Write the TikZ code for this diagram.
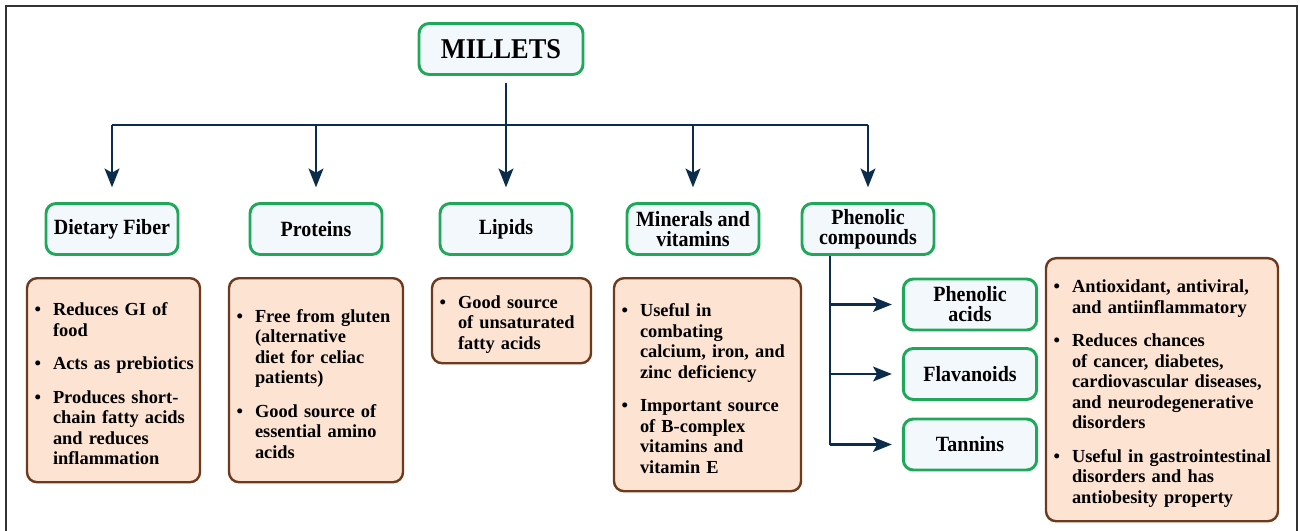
\documentclass[tikz,border=0pt]{standalone}
\usepackage{fontspec}
\setmainfont{Liberation Serif}
\newfontfamily\HeadFont{Liberation Serif}[FakeStretch=0.92]
\usepackage{enumitem}
\usetikzlibrary{arrows.meta,positioning}

\definecolor{BoxGreen}{HTML}{1FA85A}
\definecolor{BoxBlue}{HTML}{F3F8FC}
\definecolor{InfoBrown}{HTML}{6E3A1E}
\definecolor{InfoPeach}{HTML}{FCE3D2}
\definecolor{LinkNavy}{HTML}{0B2C4A}
\definecolor{FrameGray}{HTML}{333333}

\setlist[itemize]{label=\textbullet, leftmargin=13.5pt, rightmargin=-8pt, labelsep=9pt, itemsep=9.75pt, parsep=0pt, topsep=0pt, partopsep=0pt}

\begin{document}
\begin{tikzpicture}[
				x=0.75pt, y=-0.75pt,
				% Define the box styles
				topic/.style={draw=BoxGreen, fill=BoxBlue, line width=2.2pt, rounded corners=7.5pt,
					minimum width=99pt, minimum height=38.25pt, inner sep=2pt, align=center,
					font=\HeadFont\fontsize{16.3}{15}\selectfont\bfseries},
				info/.style={draw=InfoBrown, fill=InfoPeach, line width=1.8pt, rounded corners=7.5pt,
					anchor=north, inner xsep=6pt, inner ysep=2pt, align=left,
					font=\fontsize{13.8}{15.4}\selectfont\bfseries},
				wire/.style={draw=LinkNavy, line width=2.2pt},
				link/.style={wire, -{Stealth[length=14pt, width=11pt, inset=3pt]}}
				]
				\pgfmathsetmacro{\BusY}{125}
				\pgfmathsetmacro{\TrunkX}{830}
				\useasboundingbox (0,0) rectangle (1300,531);
				\draw[FrameGray, line width=1.5pt] (6,6) rectangle (1297,545);

				\node[topic, minimum width=123pt, font=\HeadFont\fontsize{21.5}{22}\selectfont\bfseries] (millets) at (501,49) {MILLETS};

				\node[topic] (fiber) at (112,229) {Dietary Fiber};
				\node[topic] (proteins) at (316,229) {Proteins};
				\node[topic] (lipids) at (506,229) {Lipids};
				\node[topic] (minerals) at (693,229) {Minerals and\\vitamins};
				\node[topic] (phenolic) at (868,229) {Phenolic\\compounds};

				\node[topic, minimum width=100pt] (phacids) at (970,304.5) {Phenolic\\acids};
				\node[topic, minimum width=100pt] (flav) at (970,374) {Flavanoids};
				\node[topic, minimum width=100pt] (tannins) at (970,444.5) {Tannins};

				\node[info, text width=117.75pt, minimum height=153pt] (fiberinfo) at (113.5,277) {%
					\begin{itemize}
						\item Reduces GI of\\food
						\item Acts as prebiotics
						\item Produces short-\\chain fatty acids\\and reduces\\inflammation
					\end{itemize}};
				\node[info, text width=118.5pt, minimum height=153pt] (proteinsinfo) at (316,277) {%
					\begin{itemize}
						\item Free from gluten\\(alternative\\diet for celiac\\patients)
						\item Good source of\\essential amino\\acids
					\end{itemize}};
				\node[info, text width=107.25pt, minimum height=63.75pt] (lipidsinfo) at (511.5,277) {%
					\begin{itemize}
						\item Good source\\of unsaturated\\fatty acids
					\end{itemize}};
				\node[info, text width=128.25pt, minimum height=159.75pt] (mineralsinfo) at (707.5,277) {%
					\begin{itemize}
						\item Useful in\\combating\\calcium, iron, and\\zinc deficiency
						\item Important source\\of B-complex\\vitamins and\\vitamin E
					\end{itemize}};
				\node[info, text width=162pt, minimum height=197.25pt] (phenolinfo) at (1162,257) {%
					\begin{itemize}
						\item Antioxidant, antiviral,\\and antiinflammatory
						\item Reduces chances\\of cancer, diabetes,\\cardiovascular diseases,\\and neurodegenerative\\disorders
						\item Useful in gastrointestinal\\disorders and has\\antiobesity property
					\end{itemize}};

				\coordinate (Bus) at (0,\BusY);
				\coordinate (PhTrunk) at (\TrunkX,0);
				\draw[wire] (Bus -| fiber) -- (Bus -| phenolic);
				\draw[link, shorten <=5pt, shorten >=11pt] (millets.south -| lipids) -- (lipids.north);
				\foreach \Child in {fiber,proteins,minerals,phenolic}
					\draw[link, shorten >=11pt] (Bus -| \Child) -- (\Child.north);
				\draw[wire] (PhTrunk |- phenolic.south) -- (PhTrunk |- tannins);
				\foreach \Leaf in {phacids,flav,tannins}
					\draw[link, shorten >=7.5pt] (PhTrunk |- \Leaf) -- (\Leaf.west);
			\end{tikzpicture}
\end{document}
